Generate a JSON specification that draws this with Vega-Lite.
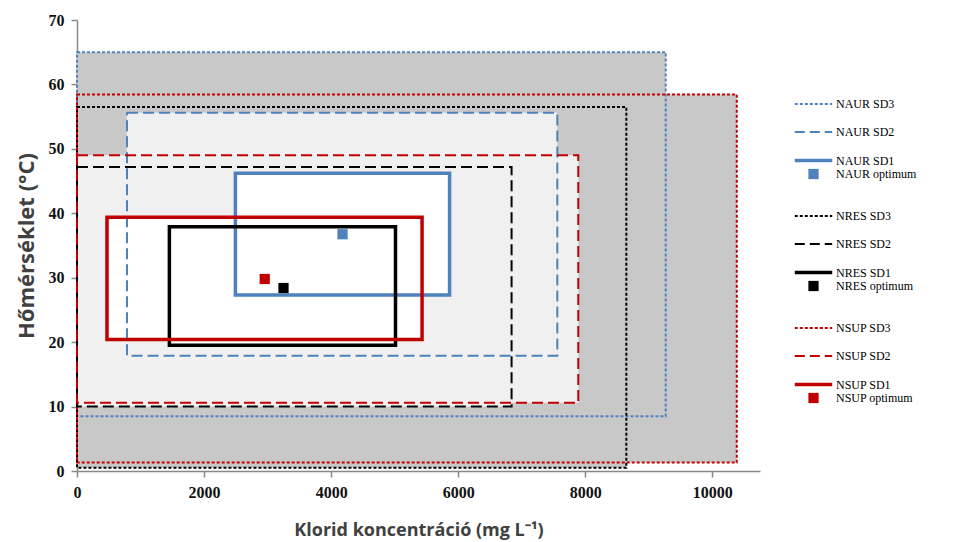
{
  "$schema": "https://vega.github.io/schema/vega-lite/v6.json",
  "width": 683,
  "height": 451,
  "autosize": {"type": "none"},
  "padding": {"left": 77, "top": 20, "right": 194, "bottom": 71},
  "background": "white",
  "config": {"view": {"stroke": null}},
  "datasets": {
    "boxes": [
      {"series": "NAUR SD3", "level": "SD3", "x1": 0, "x2": 9266, "y1": 8.5, "y2": 65},
      {"series": "NRES SD3", "level": "SD3", "x1": 0, "x2": 8646, "y1": 0.5, "y2": 56.5},
      {"series": "NSUP SD3", "level": "SD3", "x1": 0, "x2": 10384, "y1": 1.3, "y2": 58.45},
      {"series": "NAUR SD2", "level": "SD2", "x1": 787, "x2": 7560, "y1": 17.9, "y2": 55.6},
      {"series": "NRES SD2", "level": "SD2", "x1": 0, "x2": 6840, "y1": 10.0, "y2": 47.2},
      {"series": "NSUP SD2", "level": "SD2", "x1": 0, "x2": 7890, "y1": 10.6, "y2": 49.0},
      {"series": "NAUR SD1", "level": "SD1", "x1": 2493, "x2": 5864, "y1": 27.3, "y2": 46.2},
      {"series": "NRES SD1", "level": "SD1", "x1": 1454, "x2": 5013, "y1": 19.5, "y2": 37.9},
      {"series": "NSUP SD1", "level": "SD1", "x1": 472, "x2": 5431, "y1": 20.4, "y2": 39.4}
    ],
    "optima": [
      {"series": "NAUR optimum", "x1": 4179, "y1": 36.75},
      {"series": "NRES optimum", "x1": 3250, "y1": 28.4},
      {"series": "NSUP optimum", "x1": 2955, "y1": 29.8}
    ]
  },
  "encoding": {
    "x": {
      "field": "x1", "type": "quantitative",
      "scale": {"domain": [0, 10750], "nice": false, "zero": false},
      "axis": {
        "orient": "bottom",
        "title": "Klorid koncentráció (mg L⁻¹)",
        "values": [0, 2000, 4000, 6000, 8000, 10000],
        "format": "d",
        "grid": false,
        "domainColor": "#888888",
        "domainWidth": 1.5,
        "tickColor": "#888888",
        "tickWidth": 1.5,
        "tickSize": 6,
        "labelFlush": false,
        "labelFont": "Liberation Serif",
        "labelFontWeight": "bold",
        "labelFontSize": 16,
        "labelColor": "#111111",
        "labelPadding": 7,
        "titleFont": "Open Sans",
        "titleFontWeight": "bold",
        "titleFontSize": 18,
        "titleColor": "#404040",
        "titlePadding": 21
      }
    },
    "y": {
      "field": "y1", "type": "quantitative",
      "scale": {"domain": [0, 70], "nice": false, "zero": false},
      "axis": {
        "orient": "left",
        "title": "Hőmérséklet (°C)",
        "values": [0, 10, 20, 30, 40, 50, 60, 70],
        "grid": false,
        "domainColor": "#888888",
        "domainWidth": 1.5,
        "tickColor": "#888888",
        "tickWidth": 1.5,
        "tickSize": 6,
        "labelFont": "Liberation Serif",
        "labelFontWeight": "bold",
        "labelFontSize": 16,
        "labelColor": "#111111",
        "labelPadding": 7,
        "titleFont": "Open Sans",
        "titleFontWeight": "bold",
        "titleFontSize": 22,
        "titleColor": "#404040",
        "titlePadding": 10
      }
    },
    "color": {
      "field": "series", "type": "nominal",
      "scale": {
        "domain": ["NAUR SD3", "NAUR SD2", "NAUR SD1", "NAUR optimum", "NRES SD3", "NRES SD2", "NRES SD1", "NRES optimum", "NSUP SD3", "NSUP SD2", "NSUP SD1", "NSUP optimum"],
        "range": ["#4f81bd", "#4f81bd", "#4f81bd", "#4f81bd", "#000000", "#000000", "#000000", "#000000", "#c00000", "#c00000", "#c00000", "#c00000"]
      },
      "legend": {
        "title": "\u00a0",
        "titleFontSize": 1,
        "titlePadding": 63,
        "orient": "right",
        "offset": 33,
        "padding": 0,
        "gridAlign": "all",
        "rowPadding": -9,
        "labelOffset": 2,
        "labelFont": "Liberation Serif",
        "labelFontSize": 12,
        "labelColor": "#000000",
        "labelLimit": 200,
        "symbolOpacity": 1
      }
    }
  },
  "layer": [
    {
      "data": {"name": "boxes"},
      "transform": [{"filter": "datum.level === 'SD3'"}],
      "mark": {"type": "rect", "strokeWidth": 0},
      "encoding": {"x2": {"field": "x2"}, "y2": {"field": "y2"}, "color": {"value": "#c8c8c8"}}
    },
    {
      "data": {"name": "boxes"},
      "transform": [{"filter": "datum.level === 'SD2'"}],
      "mark": {"type": "rect", "strokeWidth": 0},
      "encoding": {"x2": {"field": "x2"}, "y2": {"field": "y2"}, "color": {"value": "#f0f0f0"}}
    },
    {
      "data": {"name": "boxes"},
      "transform": [{"filter": "datum.level === 'SD1'"}],
      "mark": {"type": "rect", "strokeWidth": 0},
      "encoding": {"x2": {"field": "x2"}, "y2": {"field": "y2"}, "color": {"value": "#ffffff"}}
    },
    {
      "data": {"name": "boxes"},
      "transform": [{"filter": "datum.level === 'SD3'"}],
      "mark": {"type": "rect", "filled": false, "strokeDash": [3, 2], "strokeWidth": 2},
      "encoding": {"x2": {"field": "x2"}, "y2": {"field": "y2"}}
    },
    {
      "data": {"name": "boxes"},
      "transform": [{"filter": "datum.level === 'SD2'"}],
      "mark": {"type": "rect", "filled": false, "strokeDash": [11, 5], "strokeWidth": 2},
      "encoding": {"x2": {"field": "x2"}, "y2": {"field": "y2"}}
    },
    {
      "data": {"name": "boxes"},
      "transform": [{"filter": "datum.level === 'SD1'"}],
      "mark": {"type": "rect", "filled": false, "strokeWidth": 3.5},
      "encoding": {"x2": {"field": "x2"}, "y2": {"field": "y2"}}
    },
    {
      "data": {"name": "optima"},
      "mark": {"type": "point", "filled": true, "opacity": 1},
      "encoding": {
        "shape": {
          "field": "series", "type": "nominal",
          "scale": {
            "domain": ["NAUR SD3", "NAUR SD2", "NAUR SD1", "NAUR optimum", "NRES SD3", "NRES SD2", "NRES SD1", "NRES optimum", "NSUP SD3", "NSUP SD2", "NSUP SD1", "NSUP optimum"],
            "range": ["stroke", "stroke", "stroke", "square", "stroke", "stroke", "stroke", "square", "stroke", "stroke", "stroke", "square"]
          },
          "legend": {"title": "\u00a0"}
        },
        "size": {
          "field": "series", "type": "nominal",
          "scale": {
            "type": "ordinal",
            "domain": ["NAUR SD3", "NAUR SD2", "NAUR SD1", "NAUR optimum", "NRES SD3", "NRES SD2", "NRES SD1", "NRES optimum", "NSUP SD3", "NSUP SD2", "NSUP SD1", "NSUP optimum"],
            "range": [1400, 1400, 1400, 105, 1400, 1400, 1400, 105, 1400, 1400, 1400, 105]
          },
          "legend": {"title": "\u00a0"}
        },
        "strokeWidth": {
          "field": "series", "type": "nominal",
          "scale": {
            "type": "ordinal",
            "domain": ["NAUR SD3", "NAUR SD2", "NAUR SD1", "NAUR optimum", "NRES SD3", "NRES SD2", "NRES SD1", "NRES optimum", "NSUP SD3", "NSUP SD2", "NSUP SD1", "NSUP optimum"],
            "range": [2, 2, 3.5, 0, 2, 2, 3.5, 0, 2, 2, 3.5, 0]
          },
          "legend": {"title": "\u00a0"}
        },
        "strokeDash": {
          "field": "series", "type": "nominal",
          "scale": {
            "type": "ordinal",
            "domain": ["NAUR SD3", "NAUR SD2", "NAUR SD1", "NAUR optimum", "NRES SD3", "NRES SD2", "NRES SD1", "NRES optimum", "NSUP SD3", "NSUP SD2", "NSUP SD1", "NSUP optimum"],
            "range": [[3, 2], [10, 5], [1, 0], [1, 0], [3, 2], [10, 5], [1, 0], [1, 0], [3, 2], [10, 5], [1, 0], [1, 0]]
          },
          "legend": {"title": "\u00a0"}
        }
      }
    }
  ]
}
